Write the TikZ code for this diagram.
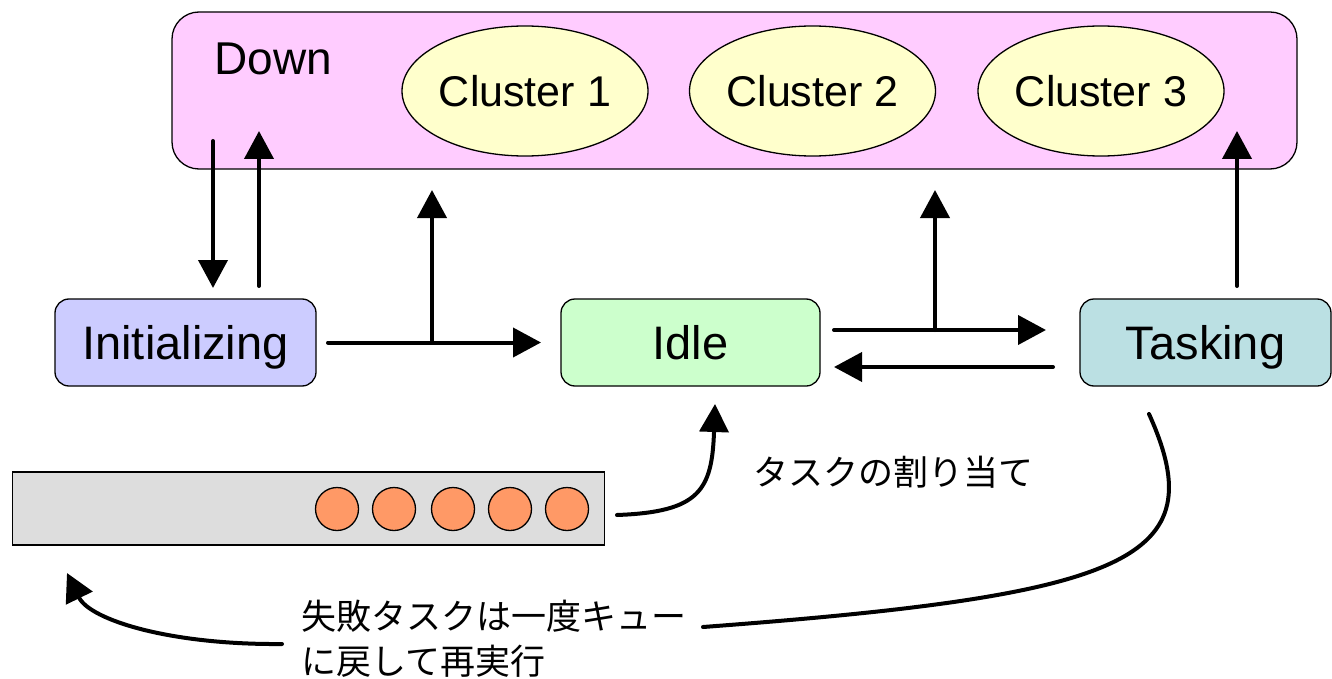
\documentclass[tikz,border=0pt]{standalone}
\usepackage{fontspec}
\setmainfont{Liberation Sans}
\newfontfamily\jpfont{Noto Sans CJK JP}
\usetikzlibrary{arrows.meta,shapes.geometric}

\definecolor{downfill}{HTML}{FFCCFF}
\definecolor{clusterfill}{HTML}{FFFFCC}
\definecolor{initfill}{HTML}{CCCCFF}
\definecolor{idlefill}{HTML}{CCFFCC}
\definecolor{taskfill}{HTML}{BBE0E3}
\definecolor{queuefill}{HTML}{DDDDDD}
\definecolor{taskdot}{HTML}{FF9966}

\begin{document}
\begin{tikzpicture}[x=1pt,y=-1pt,
  statebox/.style={draw=black, line width=1.3pt, rounded corners=14pt,
    minimum height=87pt, inner sep=0pt,
    font=\fontsize{47}{50}\selectfont, text height=34pt, text depth=0pt},
  cluster/.style={ellipse, draw=black, line width=1.3pt, fill=clusterfill,
    minimum width=246pt, minimum height=130pt, inner sep=0pt,
    font=\fontsize{43}{46}\selectfont},
  dot/.style={circle, draw=black, line width=1.3pt, fill=taskdot,
    minimum size=43pt, inner sep=0pt},
  conn/.style={line width=4pt, line cap=round,
    -{Triangle[length=28pt,width=29pt]}},
  plain/.style={line width=4pt, line cap=round},
  jlabel/.style={font=\jpfont\fontsize{35}{45}\selectfont, inner sep=0pt}
]
\useasboundingbox (0,0) rectangle (1332,679);

% the Down state holding the clusters
\node[draw=black, line width=1.3pt, fill=downfill, rounded corners=27pt,
      minimum width=1125pt, minimum height=157pt, inner sep=0pt]
      (down) at (734.5,90.5) {};
\node[font=\fontsize{46}{50}\selectfont, inner sep=0pt] (downlabel) at (273.5,59) {Down};
\node[cluster] (c1) at (525,91) {Cluster 1};
\node[cluster] (c2) at (812.5,91) {Cluster 2};
\node[cluster] (c3) at (1101,91) {Cluster 3};

% states
\node[statebox, fill=initfill, minimum width=261pt] (ini) at (185.5,342.5) {Initializing};
\node[statebox, fill=idlefill, minimum width=259pt] (idle) at (690.5,342.5) {Idle};
\node[statebox, fill=taskfill, minimum width=251pt] (task) at (1205.5,342.5) {Tasking};

% task queue
\node[draw=black, line width=1.3pt, fill=queuefill, minimum width=592pt,
      minimum height=73pt, inner sep=0pt] (queue) at (308.75,508.5) {};
\foreach \i/\x in {1/337,2/394,3/453,4/510,5/567}
  \node[dot] (t\i) at (\x,509) {};

% connector end points
\coordinate (dnA) at (213,141);  \coordinate (dnB) at (213,288);
\coordinate (upA) at (259,286);  \coordinate (upB) at (259,131);
\coordinate (iniOut) at (328,342.5); \coordinate (idleIn) at (541,342.5);
\coordinate (j1) at (432,342.5); \coordinate (j1top) at (432,190);
\coordinate (idleOut) at (834,330); \coordinate (taskIn) at (1046,330);
\coordinate (j2) at (935,330); \coordinate (j2top) at (935,190);
\coordinate (taskOut) at (1053,367); \coordinate (idleBack) at (834,367);
\coordinate (tkA) at (1237,286); \coordinate (tkB) at (1237,131);
\coordinate (qOut) at (617,515); \coordinate (idleTip) at (715,404);
\coordinate (failA) at (1149,414); \coordinate (failB) at (703,627);
\coordinate (retA) at (282,644); \coordinate (retB) at (67,573);

% transitions
\draw[conn] (dnA) -- (dnB);
\draw[conn] (upA) -- (upB);
\draw[conn] (iniOut) -- (idleIn);
\draw[conn] (j1) -- (j1top);
\draw[conn] (idleOut) -- (taskIn);
\draw[conn] (j2) -- (j2top);
\draw[conn] (taskOut) -- (idleBack);
\draw[conn] (tkA) -- (tkB);

% task assignment from the queue
\draw[conn] (qOut) .. controls (700,512) and (712,490) .. (idleTip);
\node[jlabel, anchor=west] (assign) at (753,472) {タスクの割り当て};

% failed task goes back to the queue
\draw[plain] (failA) .. controls (1215,560) and (1130,595) .. (failB);
\node[jlabel, anchor=north west, align=left] (retry) at (301,600)
  {失敗タスクは一度キュー\\に戻して再実行};
\draw[conn] (retA) .. controls (170,645) and (90,620) .. (retB);
\end{tikzpicture}
\end{document}
